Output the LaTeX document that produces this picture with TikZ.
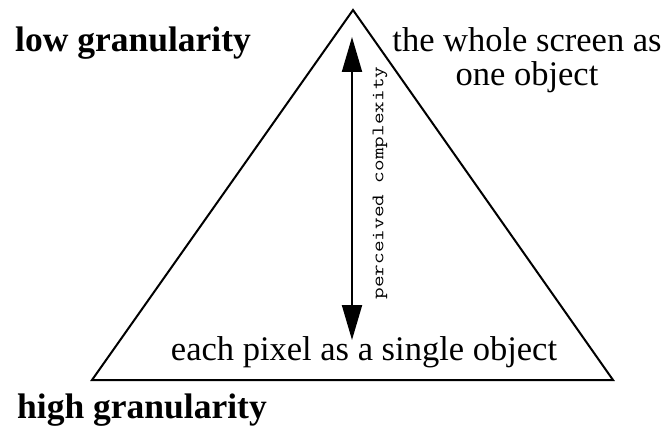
\documentclass[tikz,border=0pt]{standalone}
\usepackage{fontspec}
\setmainfont{Liberation Serif}
\usetikzlibrary{arrows.meta,positioning}
\newcommand{\stretchlabel}[1]{\scalebox{1.29}[1]{\ttfamily\fontsize{17.5}{18}\selectfont #1}}

\begin{document}
\begin{tikzpicture}[
      x=1pt,y=-1pt,
      edge/.style={line width=2pt,line join=miter},
      arrow/.style={{Triangle[length=35pt,width=20pt]}-{Triangle[length=35pt,width=20pt]},line width=2pt},
      bigbold/.style={font=\fontsize{35.5}{40}\selectfont\bfseries,inner sep=0pt},
      plain/.style={font=\fontsize{34.5}{34}\selectfont,inner sep=0pt,align=center},
      axislabel/.style={inner sep=0pt,rotate=90}
    ]
      \useasboundingbox (0,0) rectangle (668,433);
      % triangle
      \coordinate (apex) at (353,10);
      \coordinate (left) at (92,380);
      \coordinate (right) at (613,380);
      \draw[edge] (left) -- (apex) -- (right) -- cycle;
      % labels
      \node[bigbold] (low) at (133,43) {low granularity};
      \node[bigbold] (high) at (142,410) {high granularity};
      \node[plain] (whole) at (527,60) {the whole screen as\\one object};
      \node[plain] (pixel) at (364,352) {each pixel as a single object};
      % complexity arrow
      \coordinate (top) at (352,37);
      \coordinate (bottom) at (352,340);
      \draw[arrow] (bottom) -- (top);
      \node[axislabel] (complexity) at (380,183) {\stretchlabel{perceived complexity}};
    \end{tikzpicture}
\end{document}
